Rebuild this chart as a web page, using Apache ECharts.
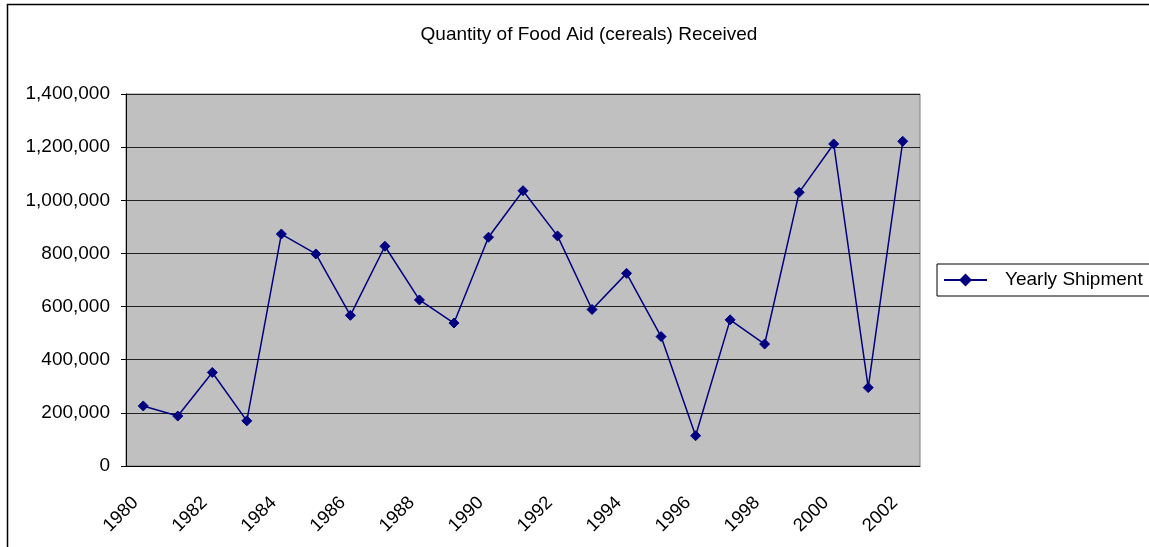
<!DOCTYPE html>
<html>
<head>
<meta charset="utf-8">
<script src="https://cdn.jsdelivr.net/npm/echarts@6/dist/echarts.min.js"></script>
<style>
  html, body { margin: 0; padding: 0; background: #fff; }
  #chart { width: 1149px; height: 547px; }
</style>
</head>
<body>
<div id="chart"></div>
<script>
const years = ['1980', '1981', '1982', '1983', '1984', '1985', '1986', '1987', '1988', '1989', '1990', '1991',
  '1992', '1993', '1994', '1995', '1996', '1997', '1998', '1999', '2000', '2001', '2002']
const shipments = [226000, 188000, 352000, 170000, 873000, 798000, 567000, 827000, 625000, 538000, 861000, 1036000,
  866000, 589000, 725000, 487000, 114000, 550000, 459000, 1030000, 1212000, 295000, 1222000]

const font = 'Liberation Sans, Arial, sans-serif'

const chart = echarts.init(document.getElementById('chart'))
chart.setOption({
  animation: false,
  textStyle: { fontFamily: font },
  title: {
    text: 'Quantity of Food Aid (cereals) Received',
    left: 584,
    top: 20,
    textAlign: 'center',
    textStyle: { fontFamily: font, fontSize: 19, fontWeight: 'normal', color: '#000' }
  },
  graphic: [
    {
      type: 'rect',
      shape: { x: 7.5, y: 4.5, width: 1200, height: 600 },
      style: { fill: 'none', stroke: '#000', lineWidth: 1.5 },
      silent: true
    }
  ],
  legend: {
    left: 937,
    top: 264,
    orient: 'vertical',
    borderColor: '#000',
    borderWidth: 1,
    padding: [6, 40, 6, 6],
    itemWidth: 43,
    itemHeight: 16,
    textStyle: { fontFamily: font, fontSize: 19, color: '#000', padding: [0, 0, 0, 13], lineHeight: 20 },
    data: ['Yearly Shipment']
  },
  grid: {
    left: 126,
    top: 94,
    width: 794,
    height: 372,
    show: true,
    backgroundColor: '#C0C0C0',
    borderColor: '#808080',
    borderWidth: 1
  },
  xAxis: {
    type: 'category',
    data: years,
    boundaryGap: true,
    axisLine: { lineStyle: { color: '#000', width: 1 } },
    axisTick: { interval: 0, length: 5, lineStyle: { color: '#000' } },
    axisLabel: {
      interval: 1,
      rotate: 45,
      margin: 26,
      fontSize: 18.5,
      color: '#000',
      fontFamily: font,
      padding: [0, 11, 22, 0]
    },
    splitLine: { show: false }
  },
  yAxis: {
    type: 'value',
    min: 0,
    max: 1400000,
    interval: 200000,
    axisLine: { show: true, lineStyle: { color: '#000', width: 1 } },
    axisTick: { show: true, length: 5, lineStyle: { color: '#000' } },
    axisLabel: {
      margin: 16,
      fontSize: 19,
      color: '#000',
      fontFamily: font,
      formatter: v => v.toLocaleString('en-US')
    },
    splitLine: { lineStyle: { color: '#222', width: 1 } }
  },
  series: [
    {
      name: 'Yearly Shipment',
      type: 'line',
      data: shipments,
      symbol: 'diamond',
      symbolSize: 10,
      showAllSymbol: true,
      lineStyle: { color: '#000080', width: 1.5 },
      itemStyle: { color: '#000080', borderColor: '#000080' }
    }
  ]
})
</script>
</body>
</html>
